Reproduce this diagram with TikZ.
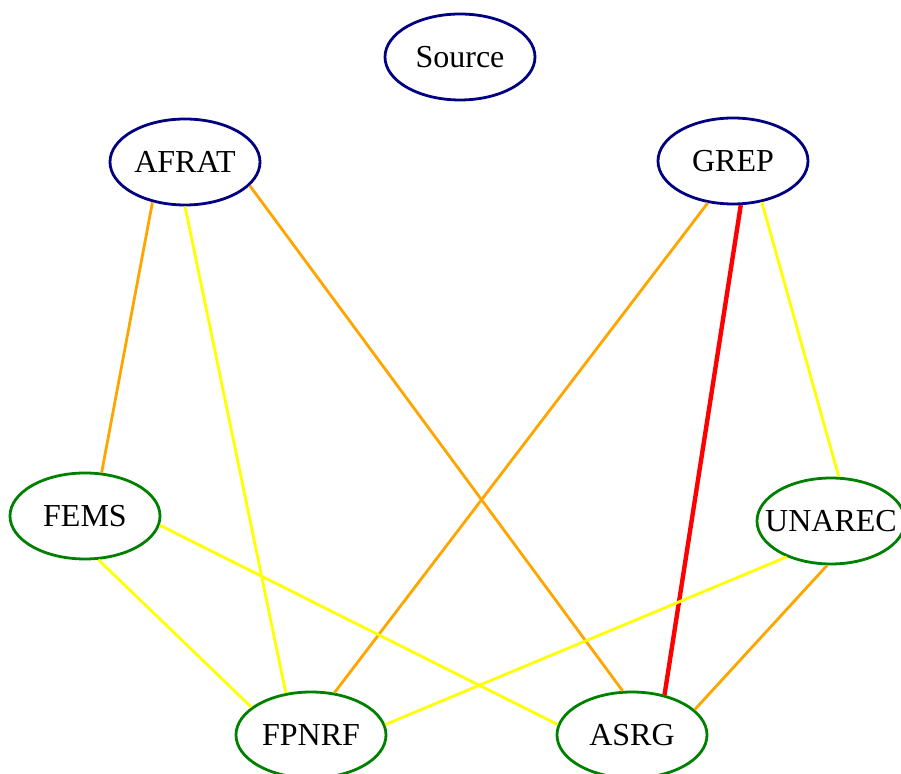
\documentclass[tikz,border=0pt]{standalone}
\usepackage{fontspec}
\setmainfont{Liberation Serif}
\usetikzlibrary{shapes.geometric}
\definecolor{navyc}{RGB}{0,0,128}
\definecolor{greenc}{RGB}{0,128,0}
\definecolor{orangec}{RGB}{255,165,0}
\definecolor{yellowc}{RGB}{255,255,0}
\definecolor{redc}{RGB}{255,0,0}
\tikzset{
  gnode/.style={ellipse, draw, line width=1.4pt, minimum width=75pt, minimum height=43pt, inner sep=0pt, font=\fontsize{16}{19}\selectfont},
  topn/.style={gnode, draw=navyc},
  botn/.style={gnode, draw=greenc},
  oedge/.style={draw=orangec, line width=1.4pt},
  yedge/.style={draw=yellowc, line width=1.4pt},
  redge/.style={draw=redc, line width=2.2pt},
}
\begin{document}
\begin{tikzpicture}[x=0.5pt,y=-0.5pt]
\useasboundingbox (0,0) rectangle (901,774);
\begin{scope}
\clip (0,0) rectangle (901,774);
\node[topn] (Source) at (460,57) {Source};
\node[topn] (AFRAT) at (185,162) {AFRAT};
\node[topn] (GREP) at (733,161) {GREP};
\node[botn] (FEMS) at (85,516) {FEMS};
\node[botn, inner xsep=-9pt, minimum width=74pt] (UNAREC) at (831,521) {UNAREC};
\node[botn] (FPNRF) at (311,735) {FPNRF};
\node[botn] (ASRG) at (632,735) {ASRG};
\draw[oedge] (AFRAT.231) -- (FEMS.69);
\draw[yedge] (AFRAT.270) -- (FPNRF.121);
\draw[oedge] (AFRAT.340) -- (ASRG.102);
\draw[oedge] (GREP.239) -- (FPNRF.61);
\draw[redge] (GREP.280) -- (ASRG.51);
\draw[yedge] (GREP.305) -- (UNAREC.80);
\draw[yedge] (FEMS.287) -- (FPNRF.155);
\draw[yedge] (FEMS.353) -- (ASRG.172);
\draw[yedge] (UNAREC.219) -- (FPNRF.8);
\draw[oedge] (UNAREC.265) -- (ASRG.22);
\end{scope}
\end{tikzpicture}
\end{document}
